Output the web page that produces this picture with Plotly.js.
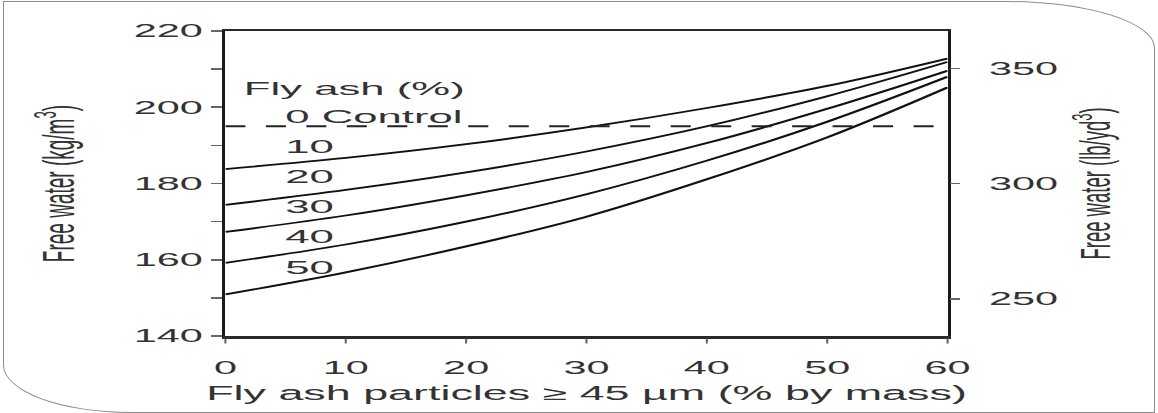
<!DOCTYPE html>
<html>
<head>
<meta charset="utf-8">
<script src="https://cdn.plot.ly/plotly-3.0.1.min.js"></script>
<style>
  html, body { margin: 0; padding: 0; background: #fff; overflow: hidden; width: 1158px; height: 413px; }
  #frame {
    position: absolute; left: 3px; top: 1px; width: 1152px; height: 412px;
    box-sizing: border-box; border: 1.5px solid #8c8c8c;
    border-top-right-radius: 148px 47px;
    border-bottom-left-radius: 128px 48px;
  }
  /* the figure is laid out narrow and widened horizontally */
  #chart {
    position: absolute; left: 0; top: 0; width: 503.5px; height: 413px;
    transform: scale(2.3, 1); transform-origin: 0 0;
  }
</style>
</head>
<body>
<div id="frame"></div>
<div id="chart"></div>
<script>
// Fly ash particles >= 45 um (% by mass)
const particles = [0, 10, 20, 30, 40, 50, 60];

// Free water (kg/m3) for each fly ash replacement level (%)
const flyAshLevels = ['10', '20', '30', '40', '50'];
const water10 = [183.8, 186.7, 190.3, 194.7, 199.8, 205.6, 212.8];
const water20 = [174.4, 178.3, 182.9, 188.4, 195.0, 202.9, 211.9];
const water30 = [167.3, 171.6, 176.9, 183.0, 190.6, 199.6, 209.6];
const water40 = [159.2, 164.0, 170.0, 177.2, 186.0, 196.2, 208.0];
const water50 = [150.9, 156.7, 163.5, 171.3, 181.1, 192.1, 205.2];
const waterSeries = [water10, water20, water30, water40, water50];

// Control mixture (0 % fly ash)
const controlWater = 195;
const controlSpan = [0, 58.9];

// Label positions for the curve annotations
const labelX = 4.6;
const labelY = [189.6, 181.8, 173.9, 166.0, 157.9];

const ink = '#333333';
const fontFamily = 'Liberation Sans, Arial, Helvetica, sans-serif';

const traces = waterSeries.map((ys, i) => ({
  type: 'scatter', mode: 'lines', name: flyAshLevels[i] + ' %',
  x: particles, y: ys,
  line: { color: '#111', width: 1.8, shape: 'spline', smoothing: 1 },
  hoverinfo: 'skip'
}));

traces.push({
  type: 'scatter', mode: 'lines', name: '0 Control',
  x: controlSpan, y: [controlWater, controlWater],
  line: { color: '#222', width: 1.9, dash: '8.7px,8.9px' },
  hoverinfo: 'skip'
});

// empty trace that keeps the right-hand lb/yd3 axis active
traces.push({
  type: 'scatter', mode: 'lines', x: [null], y: [null], yaxis: 'y2',
  showlegend: false, hoverinfo: 'skip'
});

const annotations = [
  { text: 'Fly ash (%)', x: 1.1, y: 205.0 },
  { text: '0 Control', x: labelX, y: 197.5 }
].concat(flyAshLevels.map((t, i) => ({ text: t, x: labelX, y: labelY[i] })))
 .map(a => Object.assign({
   xref: 'x', yref: 'y', xanchor: 'left', yanchor: 'middle', showarrow: false,
   font: { family: fontFamily, size: 19, color: ink }
 }, a));

const tickFont = { family: fontFamily, size: 18, color: ink };

const layout = {
  width: 503.5, height: 413,
  margin: { l: 97.5, r: 92, t: 30.5, b: 77, pad: 0, autoexpand: false },
  paper_bgcolor: 'rgba(0,0,0,0)', plot_bgcolor: 'rgba(0,0,0,0)',
  showlegend: false,
  font: { family: fontFamily, color: ink, size: 18 },
  xaxis: {
    range: [0, 60], tick0: 0, dtick: 10,
    showgrid: false, zeroline: false, automargin: false,
    showline: true, mirror: true, linecolor: '#2a2a2a', linewidth: 2.5,
    ticks: 'outside', ticklen: 5, tickwidth: 0.9, tickcolor: '#666',
    ticklabelstandoff: 9,
    tickfont: tickFont,
    title: { text: 'Fly ash particles ≥ 45 µm (% by mass)', font: { family: fontFamily, size: 19.5, color: ink }, standoff: 10 }
  },
  yaxis: {
    range: [140, 220], tick0: 140, dtick: 20,
    showgrid: false, zeroline: false, automargin: false,
    showline: true, mirror: true, linecolor: '#1a1a1a', linewidth: 1.6,
    ticks: 'outside', ticklen: 4.65, tickwidth: 1.7, tickcolor: '#666',
    minor: { dtick: 10, ticks: 'outside', ticklen: 4.65, tickwidth: 1.7, tickcolor: '#666', showgrid: false },
    tickfont: tickFont,
    title: { text: 'Free water (kg/m<sup>3</sup>)', font: { family: fontFamily, size: 19, color: ink }, standoff: 20 }
  },
  yaxis2: {
    overlaying: 'y', side: 'right', range: [233.8, 366.3],
    tickvals: [250, 300, 350],
    showgrid: false, zeroline: false, automargin: false, showline: false,
    ticks: 'outside', ticklen: 4.35, tickwidth: 1.7, tickcolor: '#666',
    ticklabelstandoff: 9,
    tickfont: tickFont,
    title: { text: 'Free water (lb/yd<sup>3</sup>)', font: { family: fontFamily, size: 18.5, color: ink }, standoff: 10 }
  },
  annotations: annotations
};

Plotly.newPlot('chart', traces, layout, { staticPlot: true, displayModeBar: false });
</script>
</body>
</html>
